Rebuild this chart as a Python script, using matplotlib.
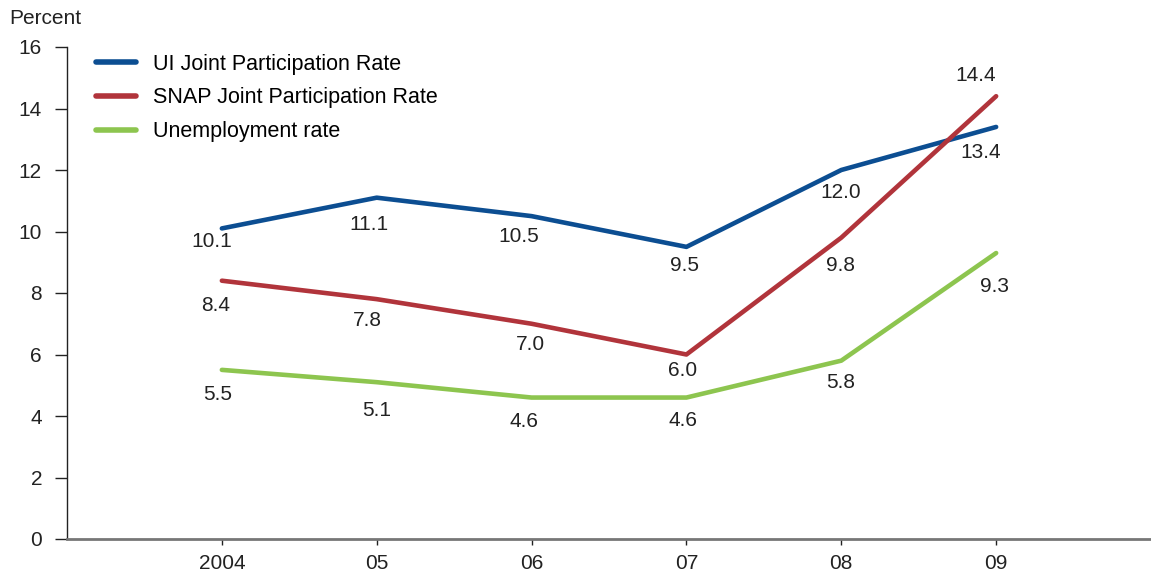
import numpy as np
import matplotlib.pyplot as plt

plt.rcParams['font.family'] = ['Liberation Sans', 'DejaVu Sans']

years = ["2004", "05", "06", "07", "08", "09"]
ui_rate = [10.1, 11.1, 10.5, 9.5, 12.0, 13.4]
snap_rate = [8.4, 7.8, 7.0, 6.0, 9.8, 14.4]
unemp_rate = [5.5, 5.1, 4.6, 4.6, 5.8, 9.3]
series_names = ["UI Joint Participation Rate", "SNAP Joint Participation Rate", "Unemployment rate"]
yticks = [0, 2, 4, 6, 8, 10, 12, 14, 16]

colors = ["#0c4e92", "#b1343b", "#8dc54f"]

# label offsets in pixels (dx, dy) for each point
ui_off = [(-10, -13), (-8, -27), (-13, -20), (-2, -19), (-1, -23), (-15, -26)]
snap_off = [(-6, -25), (-9, -21), (-1, -21), (-4, -16), (-1, -28), (-20, 21)]
unemp_off = [(-4, -25), (0, -28), (-8, -24), (-3, -23), (-1, -22), (-2, -33)]

x = np.arange(len(years))

fig = plt.figure(figsize=(11.51, 5.77), dpi=100)
ax = fig.add_axes([67 / 1151, 1 - 539 / 577, 1 - 67 / 1151, (539 - 47) / 577])

for vals, name, c, offs in zip([ui_rate, snap_rate, unemp_rate], series_names, colors,
                                [ui_off, snap_off, unemp_off]):
    ax.plot(x, vals, color=c, lw=3.3, solid_capstyle='round', label=name)
    for xi, v, (dx, dy) in zip(x, vals, offs):
        ax.annotate(f"{v:.1f}", (xi, v), xytext=(dx, dy), textcoords="offset pixels",
                    ha="center", va="center", fontsize=15, color="#222222")

ax.set_xlim(-1, 6)
ax.set_ylim(0, 16)
ax.set_xticks(x)
ax.set_xticklabels(years)
ax.set_yticks(yticks)

for s in ["top", "right"]:
    ax.spines[s].set_visible(False)
ax.spines["left"].set_color("#222222")
ax.spines["left"].set_linewidth(1.0)
ax.spines["bottom"].set_color("#777777")
ax.spines["bottom"].set_linewidth(2.0)

ax.tick_params(axis="y", length=9, width=1.0, color="#222222", labelsize=15,
               labelcolor="#222222", pad=9)
ax.tick_params(axis="x", length=4, width=1.0, color="#222222", labelsize=15,
               labelcolor="#222222", pad=7)

fig.text(9 / 1151, 1 - 18 / 577, "Percent", fontsize=15, color="#222222",
         ha="left", va="center")

leg = ax.legend(loc="upper left", bbox_to_anchor=(0.009, 1.026), frameon=False,
                fontsize=15.5, handlelength=1.85, handletextpad=0.8, labelspacing=0.6)
for h in leg.get_lines():
    h.set_linewidth(4)
    h.set_solid_capstyle('round')

fig.savefig("out.png", dpi=100)
